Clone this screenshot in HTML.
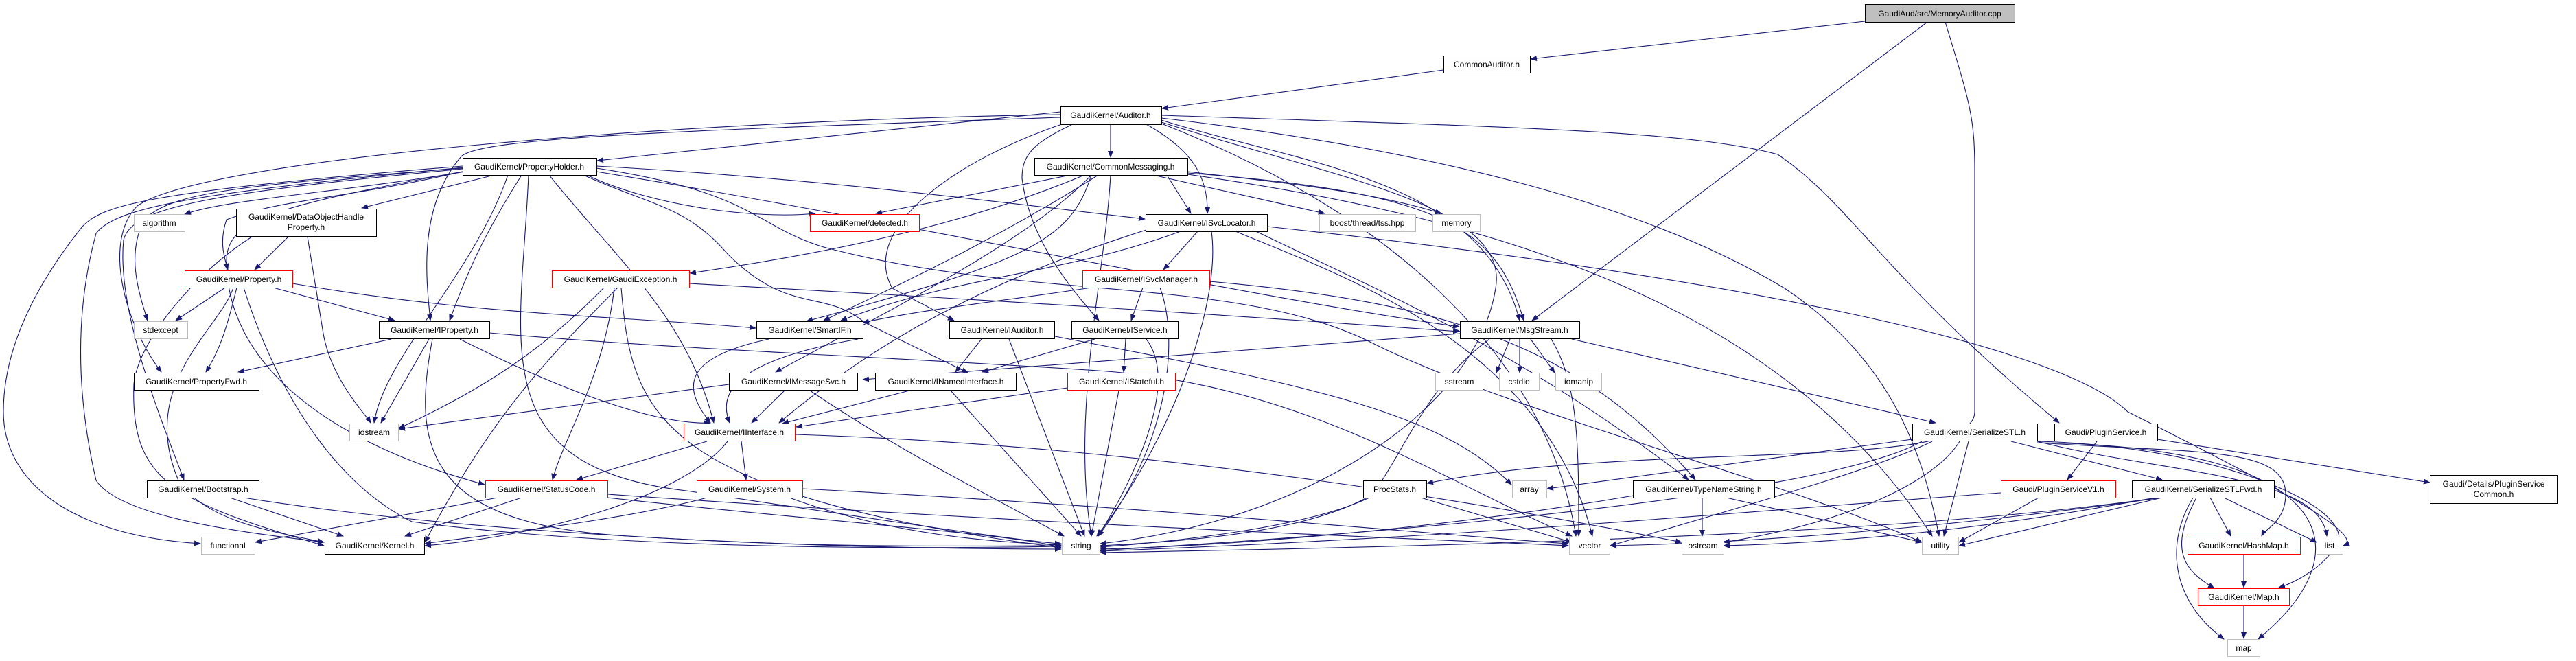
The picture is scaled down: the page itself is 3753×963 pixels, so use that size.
<!DOCTYPE html>
<html><head><meta charset="utf-8"><style>
html,body{margin:0;padding:0;background:#fff;}
svg{display:block;}
text{font-family:"Liberation Sans",Arial,sans-serif;font-size:12px;fill:#000;text-anchor:middle;}
.e{fill:none;stroke:#191970;stroke-width:1.1;marker-end:url(#a);}
.n{fill:#fff;stroke:#000;stroke-width:1;}
.g{fill:#fff;stroke:#bfbfbf;stroke-width:1;}
.r{fill:#fff;stroke:#ff0000;stroke-width:1;}
</style></head><body>
<svg width="3753" height="963" viewBox="0 0 3753 963" xmlns="http://www.w3.org/2000/svg">
<defs><marker id="a" markerWidth="10" markerHeight="8" refX="9" refY="4" orient="auto" markerUnits="userSpaceOnUse"><path d="M0,0 L10,4 L0,8 Z" fill="#191970"/></marker></defs>
<g>
<!-- MemoryAuditor -->
<path class="e" d="M2717,31 L2230,86"/>
<path class="e" d="M2808,32 L2232,467"/>
<path class="e" d="M2834,32 C2870,150 2877,170 2877,250 L2877,600 C2877,690 2400,640 2079,704"/>
<!-- CommonAuditor -->
<path class="e" d="M2103,102 L1693,158"/>
<!-- Auditor -->
<path class="e" d="M1618,181 L1618,229"/>
<path class="e" d="M1545,163 L870,234"/>
<path class="e" d="M1545,171 C1000,190 700,200 672,228 C610,300 620,400 627,467"/>
<path class="e" d="M1545,167 C1000,175 300,230 200,300 C150,350 180,470 235,542"/>
<path class="e" d="M1670,181 C1740,220 1760,260 1759,311"/>
<path class="e" d="M1561,182 C1500,210 1489,230 1489,260 C1500,350 1560,420 1601,467"/>
<path class="e" d="M1550,180 C1400,230 1250,330 1300,420 L1390,467"/>
<path class="e" d="M1692,175 C1900,240 2160,260 2214,467"/>
<path class="e" d="M1692,178 C1950,260 2200,300 2179,420 C2150,600 1900,760 1603,792"/>
<path class="e" d="M1692,180 C2000,300 2250,500 2296,781"/>
<path class="e" d="M1692,168 C2200,185 2460,190 2590,225 C2700,300 2740,400 3000,616"/>
<path class="e" d="M1692,172 C2100,220 2400,300 2600,420 C2750,520 2800,650 2825,781"/>
<!-- CommonMessaging -->
<path class="e" d="M1560,255 L1276,311"/>
<path class="e" d="M1700,255 L1735,311"/>
<path class="e" d="M1680,255 L1930,311"/>
<path class="e" d="M1730,250 C1900,270 2000,280 2100,311"/>
<path class="e" d="M1600,255 C1450,350 1300,420 1200,467"/>
<path class="e" d="M1590,255 C1500,350 1300,450 1130,542"/>
<path class="e" d="M1730,252 C2100,280 2180,330 2220,467"/>
<path class="e" d="M1618,255 C1610,400 1560,600 1590,781"/>
<path class="e" d="M1580,255 C1400,330 1200,370 1005,398"/>
<path class="e" d="M1730,254 C2200,320 2600,450 2815,781"/>
<path class="e" d="M1590,255 C1560,350 1500,380 1175,468"/>
<!-- PropertyHolder -->
<path class="e" d="M690,248 C500,280 330,290 269,312"/>
<path class="e" d="M720,255 L527,303"/>
<path class="e" d="M674,250 C500,290 410,290 330,320 C320,350 325,370 332,393"/>
<path class="e" d="M674,245 C350,270 250,280 210,320 C185,370 200,420 215,467"/>
<path class="e" d="M674,242 C200,280 150,300 120,330 C40,430 5,520 5,600 C5,700 100,780 292,792"/>
<path class="e" d="M674,244 C300,280 170,300 140,340 C110,450 110,570 140,700 C180,760 400,780 472,790"/>
<path class="e" d="M674,246 C320,280 190,300 180,350 C170,450 230,600 268,699"/>
<path class="e" d="M674,250 C400,300 330,320 330,380 C330,520 460,640 706,706"/>
<path class="e" d="M760,255 C700,350 680,400 655,467"/>
<path class="e" d="M740,255 C690,400 560,520 545,616"/>
<path class="e" d="M770,255 C760,500 700,680 1000,715 C1300,760 1500,790 1546,792"/>
<path class="e" d="M800,255 C900,380 1000,460 1040,616"/>
<path class="e" d="M855,255 C950,300 1100,320 1188,311"/>
<path class="e" d="M869,242 C1200,260 1500,300 1668,319"/>
<path class="e" d="M869,250 C1300,320 1800,430 2126,476"/>
<path class="e" d="M869,245 C1100,280 1100,330 1200,360 C1500,440 1800,400 2000,500 C2200,600 2600,700 2800,790"/>
<path class="e" d="M850,255 C950,300 1000,300 1060,370 C1150,460 1200,420 1260,470 L1410,543"/>
<!-- DataObjectHandleProperty -->
<path class="e" d="M420,345 L371,393"/>
<path class="e" d="M367,345 C280,400 200,500 195,560 C190,700 250,730 472,795"/>
<path class="e" d="M448,345 L470,480 C480,550 530,600 540,616"/>
<!-- Property.h -->
<path class="e" d="M328,419 L256,467"/>
<path class="e" d="M345,419 C330,480 320,510 300,542"/>
<path class="e" d="M398,419 L575,467"/>
<path class="e" d="M426,413 C700,460 900,460 1101,478"/>
<path class="e" d="M340,419 C320,480 200,560 260,700 C300,760 400,775 472,790"/>
<path class="e" d="M355,419 C400,560 480,700 600,760 C900,800 1300,800 1546,796"/>
<!-- GaudiException -->
<path class="e" d="M880,419 C800,500 720,560 581,624"/>
<path class="e" d="M895,419 C880,550 820,640 805,699"/>
<path class="e" d="M900,419 C800,520 720,600 619,790"/>
<path class="e" d="M905,419 C920,600 950,720 1546,798"/>
<path class="e" d="M1004,413 C1500,440 1800,460 2126,483"/>
<!-- IProperty -->
<path class="e" d="M570,494 L347,542"/>
<path class="e" d="M625,494 L555,616"/>
<path class="e" d="M670,494 C800,560 950,620 1035,616"/>
<path class="e" d="M630,494 C600,650 620,760 900,780 C1200,800 1400,795 1546,795"/>
<path class="e" d="M713,485 C1000,510 1300,520 1600,540 C1900,560 2100,700 2290,781"/>
<!-- SmartIF -->
<path class="e" d="M1120,494 C1000,520 990,560 1035,616"/>
<path class="e" d="M1250,494 C1100,520 1040,560 1063,616"/>
<!-- IMessageSvc -->
<path class="e" d="M1062,560 L581,625"/>
<path class="e" d="M1143,569 L1095,616"/>
<path class="e" d="M1180,569 C1300,650 1400,700 1550,781"/>
<!-- ISvcLocator -->
<path class="e" d="M1745,337 L1695,393"/>
<path class="e" d="M1720,337 C1550,400 1400,400 1225,467"/>
<path class="e" d="M1670,335 C1400,420 1250,520 1135,616"/>
<path class="e" d="M1765,337 C1780,450 1700,650 1598,781"/>
<path class="e" d="M1800,337 C1950,400 2250,500 2320,781"/>
<path class="e" d="M1846,330 C2500,400 3000,500 3100,600 C3300,700 3450,780 3414,795"/>
<path class="e" d="M1830,337 C2000,420 2200,500 2460,699"/>
<!-- ISvcManager -->
<path class="e" d="M1665,419 L1648,467"/>
<path class="e" d="M1590,419 C1450,440 1350,450 1257,470"/>
<path class="e" d="M1690,419 C1720,500 1700,650 1600,781"/>
<path class="e" d="M1762,410 C2100,440 2300,500 2470,699"/>
<!-- IAuditor -->
<path class="e" d="M1430,494 L1392,542"/>
<path class="e" d="M1470,494 L1580,781"/>
<path class="e" d="M1537,490 C1900,560 2100,600 2202,706"/>
<!-- IService -->
<path class="e" d="M1595,494 L1431,542"/>
<path class="e" d="M1640,494 L1637,542"/>
<path class="e" d="M1670,494 C1720,560 1650,700 1600,781"/>
<!-- INamedInterface -->
<path class="e" d="M1325,569 L1140,617"/>
<path class="e" d="M1385,569 L1575,781"/>
<!-- IStateful -->
<path class="e" d="M1555,565 L1160,622"/>
<path class="e" d="M1630,569 L1590,781"/>
<!-- IInterface -->
<path class="e" d="M1030,643 L840,699"/>
<path class="e" d="M1080,643 L1087,699"/>
<path class="e" d="M1060,643 C1000,720 800,780 619,795"/>
<path class="e" d="M1158,633 C1700,650 2200,740 2450,790"/>
<!-- StatusCode -->
<path class="e" d="M725,725 L372,790"/>
<path class="e" d="M760,725 L590,781"/>
<path class="e" d="M885,725 C1200,760 1500,780 1546,798"/>
<path class="e" d="M885,720 C1600,770 2200,790 2285,795"/>
<!-- System -->
<path class="e" d="M1030,725 C900,760 700,780 619,792"/>
<path class="e" d="M1150,725 C1300,780 1450,790 1546,794"/>
<path class="e" d="M1169,712 C1700,740 2100,780 2285,792"/>
<!-- Bootstrap -->
<path class="e" d="M335,725 L500,781"/>
<path class="e" d="M355,725 C700,780 1200,800 1546,800"/>
<!-- MsgStream -->
<path class="e" d="M2127,486 L1257,553"/>
<path class="e" d="M2290,494 L2820,616"/>
<path class="e" d="M2200,494 L2180,543"/>
<path class="e" d="M2214,494 L2214,543"/>
<path class="e" d="M2230,494 L2265,543"/>
<path class="e" d="M2170,494 C2080,560 2050,650 2000,720 C1900,780 1700,790 1603,795"/>
<path class="e" d="M2260,494 C2300,560 2300,650 2300,781"/>
<!-- ProcStats -->
<path class="e" d="M1995,725 C1900,770 1700,790 1603,797"/>
<path class="e" d="M2070,725 L2290,790"/>
<!-- TypeNameString -->
<path class="e" d="M2380,722 C2100,770 1800,795 1603,800"/>
<path class="e" d="M2480,725 L2480,781"/>
<path class="e" d="M2515,725 L2800,790"/>
<!-- SerializeSTL -->
<path class="e" d="M2786,640 L2254,712"/>
<path class="e" d="M2815,643 C2740,680 2600,720 2346,795"/>
<path class="e" d="M2855,643 C2820,700 2700,760 2511,790"/>
<path class="e" d="M2868,643 L2832,781"/>
<path class="e" d="M2800,643 C2700,700 2300,760 1603,802"/>
<path class="e" d="M2930,643 L3150,699"/>
<path class="e" d="M2968,645 C3200,660 3330,650 3330,720 C3330,760 3300,770 3295,781"/>
<path class="e" d="M2968,643 C3150,690 3380,690 3390,781"/>
<path class="e" d="M2968,643 C3250,650 3450,750 3400,800 C3380,830 3340,850 3320,856"/>
<path class="e" d="M2968,645 C3400,650 3450,800 3290,931"/>
<!-- PluginService -->
<path class="e" d="M3055,643 L3012,699"/>
<path class="e" d="M3143,640 L3540,703"/>
<!-- PluginServiceV1 -->
<path class="e" d="M2915,718 C2600,740 2200,780 1603,803"/>
<path class="e" d="M2970,725 L2854,790"/>
<!-- SerializeSTLFwd -->
<path class="e" d="M3220,725 L3250,781"/>
<path class="e" d="M3240,725 L3375,790"/>
<path class="e" d="M3200,725 C3160,800 3180,830 3226,857"/>
<path class="e" d="M3195,725 C3150,800 3170,880 3240,931"/>
<path class="e" d="M3150,725 L2854,795"/>
<path class="e" d="M3150,725 C2900,760 2600,790 2346,795"/>
<path class="e" d="M3140,725 C2900,770 2700,790 2511,795"/>
<path class="e" d="M3145,725 C2900,760 2500,790 1603,805"/>
<!-- HashMap / Map -->
<path class="e" d="M3269,807 L3269,856"/>
<path class="e" d="M3269,882 L3269,930"/>
</g>
<g>
<rect class="n" x="2717.5" y="6.5" width="218" height="26" style="fill:#bfbfbf"/><text x="2826" y="24">GaudiAud/src/MemoryAuditor.cpp</text>
<rect class="n" x="2103.5" y="81.5" width="126" height="25"/><text x="2166" y="98">CommonAuditor.h</text>
<rect class="n" x="1545.5" y="155.5" width="147" height="26"/><text x="1618" y="172">GaudiKernel/Auditor.h</text>
<rect class="n" x="674.5" y="230.5" width="195" height="25"/><text x="771" y="247">GaudiKernel/PropertyHolder.h</text>
<rect class="n" x="1507.5" y="230.5" width="223" height="25"/><text x="1618" y="247">GaudiKernel/CommonMessaging.h</text>
<rect class="g" x="195.5" y="312.5" width="74" height="25"/><text x="232" y="329">algorithm</text>
<rect class="n" x="344.5" y="304.5" width="204" height="40"/><text x="446" y="320">GaudiKernel/DataObjectHandle</text><text x="446" y="335">Property.h</text>
<rect class="r" x="1180.5" y="312.5" width="159" height="25"/><text x="1260" y="329">GaudiKernel/detected.h</text>
<rect class="n" x="1669.5" y="312.5" width="177" height="25"/><text x="1758" y="329">GaudiKernel/ISvcLocator.h</text>
<rect class="g" x="1922.5" y="312.5" width="140" height="25"/><text x="1992" y="329">boost/thread/tss.hpp</text>
<rect class="g" x="2087.5" y="312.5" width="69" height="25"/><text x="2122" y="329">memory</text>
<rect class="r" x="269.5" y="394.5" width="157" height="25"/><text x="348" y="411">GaudiKernel/Property.h</text>
<rect class="r" x="804.5" y="394.5" width="200" height="25"/><text x="904" y="411">GaudiKernel/GaudiException.h</text>
<rect class="r" x="1577.5" y="394.5" width="185" height="25"/><text x="1670" y="411">GaudiKernel/ISvcManager.h</text>
<rect class="g" x="195.5" y="468.5" width="78" height="25"/><text x="234" y="485">stdexcept</text>
<rect class="n" x="552.5" y="468.5" width="161" height="25"/><text x="633" y="485">GaudiKernel/IProperty.h</text>
<rect class="n" x="1102.5" y="468.5" width="155" height="25"/><text x="1180" y="485">GaudiKernel/SmartIF.h</text>
<rect class="n" x="1383.5" y="468.5" width="153" height="25"/><text x="1460" y="485">GaudiKernel/IAuditor.h</text>
<rect class="n" x="1561.5" y="468.5" width="155" height="25"/><text x="1639" y="485">GaudiKernel/IService.h</text>
<rect class="n" x="2127.5" y="468.5" width="174" height="25"/><text x="2214" y="485">GaudiKernel/MsgStream.h</text>
<rect class="n" x="195.5" y="543.5" width="182" height="25"/><text x="286" y="560">GaudiKernel/PropertyFwd.h</text>
<rect class="n" x="1062.5" y="543.5" width="187" height="25"/><text x="1156" y="560">GaudiKernel/IMessageSvc.h</text>
<rect class="n" x="1275.5" y="543.5" width="205" height="25"/><text x="1378" y="560">GaudiKernel/INamedInterface.h</text>
<rect class="r" x="1555.5" y="543.5" width="157" height="25"/><text x="1634" y="560">GaudiKernel/IStateful.h</text>
<rect class="g" x="2091.5" y="543.5" width="69" height="25"/><text x="2126" y="560">sstream</text>
<rect class="g" x="2184.5" y="543.5" width="58" height="25"/><text x="2213" y="560">cstdio</text>
<rect class="g" x="2266.5" y="543.5" width="67" height="25"/><text x="2300" y="560">iomanip</text>
<rect class="g" x="509.5" y="617.5" width="71" height="25"/><text x="545" y="634">iostream</text>
<rect class="r" x="996.5" y="617.5" width="162" height="25"/><text x="1077" y="634">GaudiKernel/IInterface.h</text>
<rect class="n" x="2786.5" y="617.5" width="182" height="25"/><text x="2877" y="634">GaudiKernel/SerializeSTL.h</text>
<rect class="n" x="2993.5" y="617.5" width="150" height="25"/><text x="3068" y="634">Gaudi/PluginService.h</text>
<rect class="n" x="214.5" y="700.5" width="163" height="25"/><text x="296" y="717">GaudiKernel/Bootstrap.h</text>
<rect class="r" x="707.5" y="700.5" width="178" height="25"/><text x="796" y="717">GaudiKernel/StatusCode.h</text>
<rect class="r" x="1015.5" y="700.5" width="154" height="25"/><text x="1092" y="717">GaudiKernel/System.h</text>
<rect class="n" x="1986.5" y="700.5" width="92" height="25"/><text x="2032" y="717">ProcStats.h</text>
<rect class="g" x="2203.5" y="700.5" width="50" height="25"/><text x="2228" y="717">array</text>
<rect class="n" x="2379.5" y="700.5" width="206" height="25"/><text x="2482" y="717">GaudiKernel/TypeNameString.h</text>
<rect class="r" x="2915.5" y="700.5" width="167" height="25"/><text x="2999" y="717">Gaudi/PluginServiceV1.h</text>
<rect class="n" x="3106.5" y="700.5" width="207" height="25"/><text x="3210" y="717">GaudiKernel/SerializeSTLFwd.h</text>
<rect class="n" x="3540.5" y="692.5" width="186" height="41"/><text x="3633" y="709">Gaudi/Details/PluginService</text><text x="3633" y="724">Common.h</text>
<rect class="g" x="293.5" y="782.5" width="78" height="25"/><text x="332" y="799">functional</text>
<rect class="n" x="473.5" y="782.5" width="145" height="25"/><text x="546" y="799">GaudiKernel/Kernel.h</text>
<rect class="g" x="1547.5" y="782.5" width="55" height="25"/><text x="1575" y="799">string</text>
<rect class="g" x="2286.5" y="782.5" width="59" height="25"/><text x="2316" y="799">vector</text>
<rect class="g" x="2450.5" y="782.5" width="61" height="25"/><text x="2481" y="799">ostream</text>
<rect class="g" x="2800.5" y="782.5" width="53" height="25"/><text x="2827" y="799">utility</text>
<rect class="r" x="3187.5" y="782.5" width="164" height="25"/><text x="3269" y="799">GaudiKernel/HashMap.h</text>
<rect class="g" x="3375.5" y="782.5" width="38" height="25"/><text x="3394" y="799">list</text>
<rect class="r" x="3202.5" y="857.5" width="133" height="25"/><text x="3269" y="874">GaudiKernel/Map.h</text>
<rect class="g" x="3245.5" y="931.5" width="47" height="25"/><text x="3269" y="948">map</text>
</g>
</svg>
</body></html>
